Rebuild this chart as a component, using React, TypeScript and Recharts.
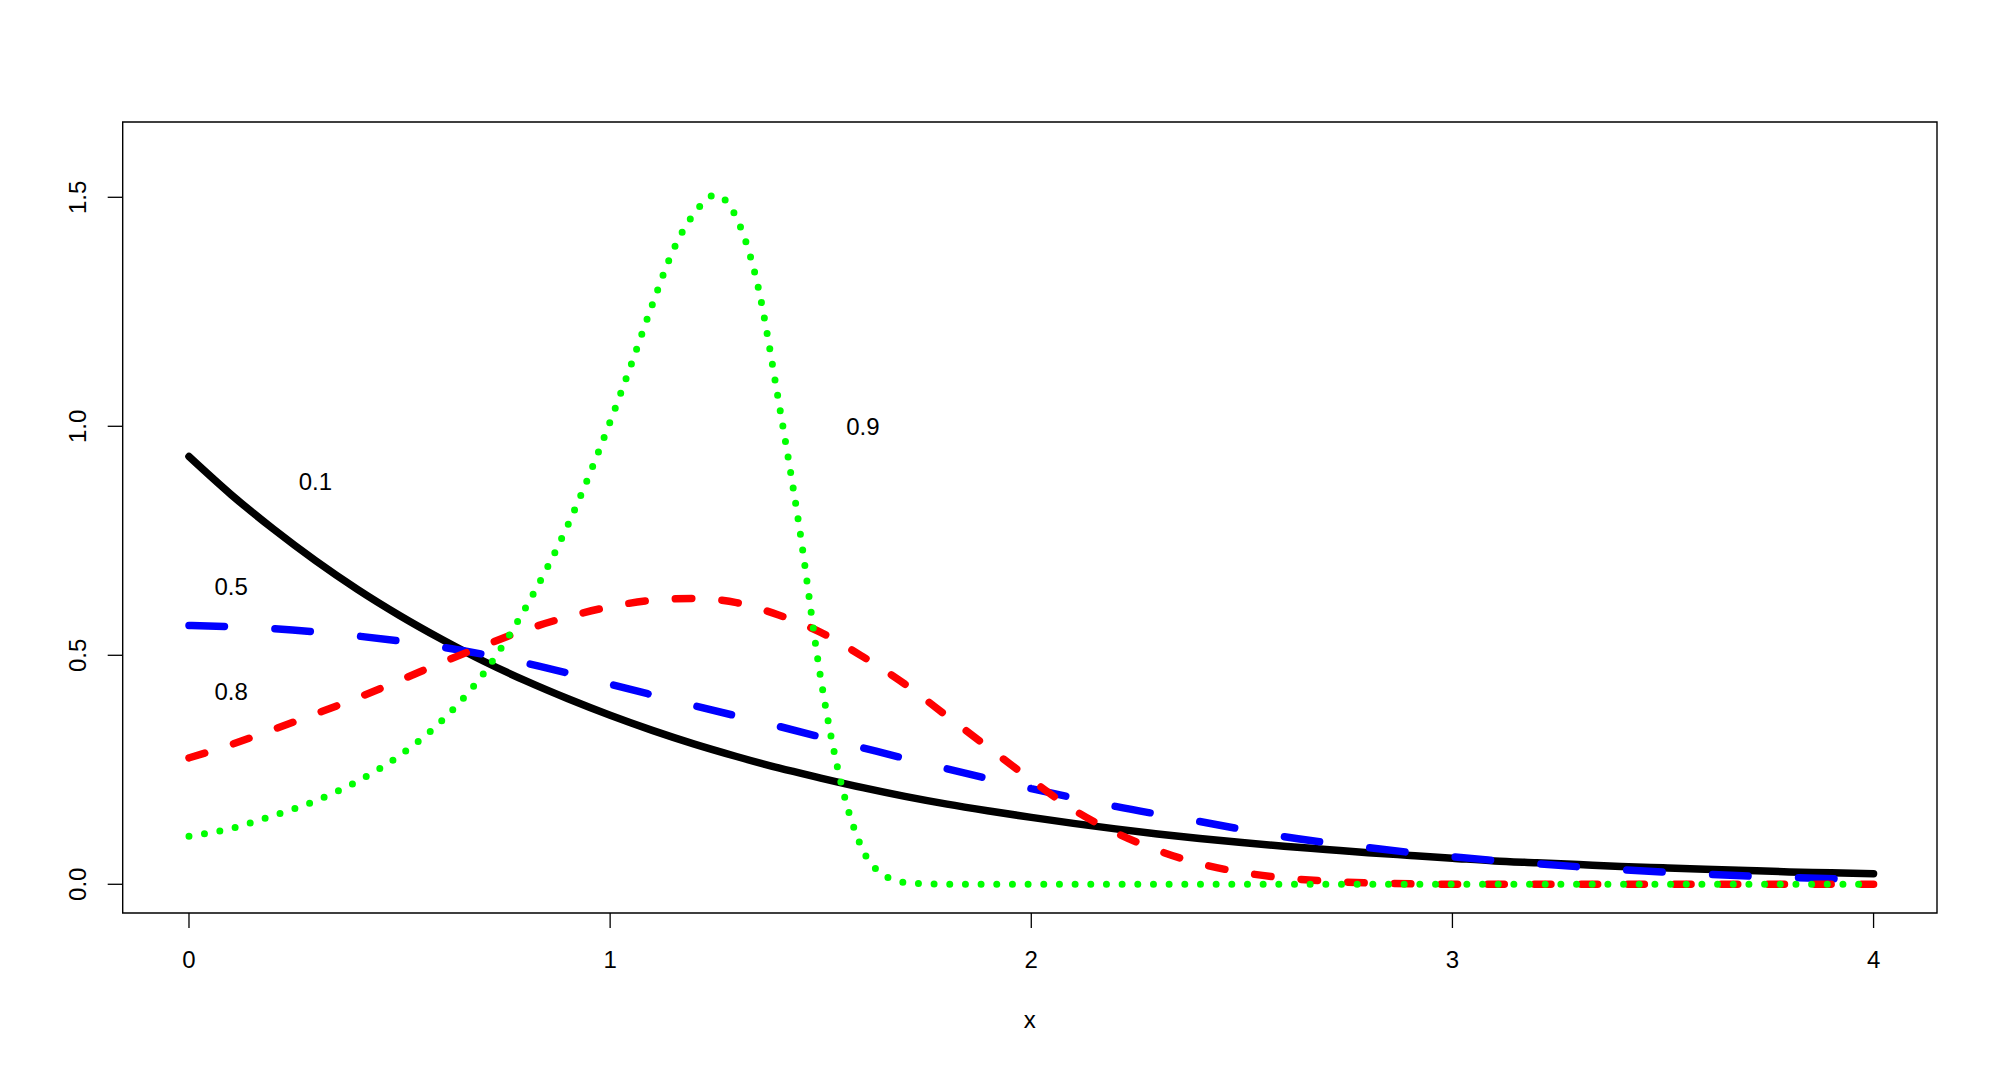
import React from 'react';
import { LineChart, Line, XAxis, YAxis, ReferenceArea, ReferenceDot } from 'recharts';

// ---- data ----
const blackX = [0, 0.1, 0.2, 0.3, 0.4, 0.5, 0.6, 0.7, 0.8, 0.9, 1.0, 1.1, 1.2, 1.3, 1.4, 1.5, 1.6, 1.7, 1.8, 1.9, 2.0, 2.1, 2.2, 2.3, 2.4, 2.5, 2.6, 2.7, 2.8, 2.9, 3.0, 3.1, 3.2, 3.3, 3.4, 3.5, 3.6, 3.7, 3.8, 3.9, 4.0];
const blackY = [0.934, 0.851, 0.776, 0.707, 0.644, 0.587, 0.535, 0.487, 0.444, 0.405, 0.369, 0.336, 0.306, 0.279, 0.254, 0.232, 0.211, 0.192, 0.175, 0.160, 0.146, 0.133, 0.121, 0.110, 0.100, 0.091, 0.083, 0.076, 0.069, 0.063, 0.057, 0.051, 0.047, 0.043, 0.039, 0.036, 0.033, 0.030, 0.027, 0.025, 0.023];

const blueX = [0, 0.2, 0.4, 0.6, 0.8, 1.0, 1.2, 1.4, 1.6, 1.8, 2.0, 2.2, 2.4, 2.6, 2.8, 3.0, 3.2, 3.4, 3.6, 3.8, 4.0];
const blueY = [0.565, 0.558, 0.542, 0.518, 0.483, 0.437, 0.390, 0.345, 0.298, 0.252, 0.209, 0.170, 0.137, 0.104, 0.080, 0.060, 0.045, 0.032, 0.022, 0.015, 0.010];

const redX = [0, 0.1, 0.2, 0.3, 0.4, 0.5, 0.6, 0.7, 0.8, 0.9, 1.0, 1.1, 1.2, 1.3, 1.4, 1.5, 1.6, 1.7, 1.8, 1.9, 2.0, 2.1, 2.2, 2.3, 2.4, 2.5, 2.6, 2.7, 2.8, 2.9, 3.0, 3.1, 3.2, 3.3, 3.4, 3.5, 3.6, 3.7, 3.8, 3.9, 4.0];
const redY = [0.276, 0.305, 0.338, 0.372, 0.407, 0.445, 0.484, 0.521, 0.556, 0.584, 0.606, 0.620, 0.624, 0.615, 0.588, 0.550, 0.497, 0.437, 0.367, 0.297, 0.228, 0.163, 0.113, 0.074, 0.045, 0.026, 0.014, 0.007, 0.003, 0.001, 0, 0, 0, 0, 0, 0, 0, 0, 0, 0, 0];

const greenX = [0, 0.1, 0.2, 0.3, 0.4, 0.5, 0.6, 0.7, 0.8, 0.9, 1.0, 1.05, 1.1, 1.15, 1.2, 1.25, 1.3, 1.35, 1.4, 1.45, 1.5, 1.55, 1.6, 1.65, 1.7, 1.8, 2.0, 2.5, 3.0, 3.5, 4.0];
const greenY = [0.105, 0.122, 0.150, 0.182, 0.225, 0.281, 0.357, 0.461, 0.605, 0.785, 1.010, 1.135, 1.265, 1.385, 1.465, 1.505, 1.455, 1.310, 1.055, 0.775, 0.450, 0.215, 0.075, 0.020, 0.004, 0, 0, 0, 0, 0, 0];

const labelTexts = ['0.1', '0.5', '0.8', '0.9'];
const labelX = [0.3, 0.1, 0.1, 1.6];
const labelY = [0.88, 0.65, 0.42, 1.0];

const xTicks = [0, 1, 2, 3, 4];
const yTicks = [0, 0.5, 1.0, 1.5];
const xTitle = 'x';

const xDomain: [number, number] = [-0.1574, 4.1506];
const yDomain: [number, number] = [-0.0627, 1.6644];

const zip = (xs: number[], ys: number[]) => xs.map((x, i) => ({ x, y: ys[i] }));
const blackData = zip(blackX, blackY);
const blueData = zip(blueX, blueY);
const redData = zip(redX, redY);
const greenData = zip(greenX, greenY);

const FONT = '"Liberation Sans", Arial, Helvetica, sans-serif';

const XTick = (props: any) => {
  const { x, y, payload } = props;
  return (
    <text x={x} y={y + 17} textAnchor="middle" fontSize={24} fontFamily={FONT} fill="#000">
      {String(payload.value)}
    </text>
  );
};

const YTick = (props: any) => {
  const { x, y, payload } = props;
  return (
    <text x={x} y={y} transform={`rotate(-90, ${x}, ${y})`} textAnchor="middle" fontSize={24} fontFamily={FONT} fill="#000">
      {Number(payload.value).toFixed(1)}
    </text>
  );
};

const XTitle = (props: any) => {
  const vb = props.viewBox || { x: 0, y: 0, width: 0 };
  return (
    <text x={vb.x + vb.width / 2} y={vb.y + 115.3} textAnchor="middle" fontSize={24} fontFamily={FONT} fill="#000">
      {xTitle}
    </text>
  );
};

export default function App() {
  const lw = 7.5;
  return (
    <div style={{ position: 'absolute', left: 0, top: 0, width: 1998, height: 1067, background: '#fff' }}>
      <LineChart
        width={1998}
        height={1067}
        margin={{ top: 122, right: 61, bottom: 94, left: 62.7 }}
      >
        <XAxis
          type="number"
          dataKey="x"
          domain={xDomain}
          allowDataOverflow
          ticks={xTicks}
          axisLine={false}
          tickLine={{ stroke: '#000', strokeWidth: 1.3 }}
          tickSize={15}
          tickMargin={23.3}
          height={60}
          tick={<XTick />}
          label={{ value: xTitle, content: <XTitle /> }}
        />
        <YAxis
          type="number"
          dataKey="y"
          domain={yDomain}
          allowDataOverflow
          ticks={yTicks}
          axisLine={false}
          tickLine={{ stroke: '#000', strokeWidth: 1.3 }}
          tickSize={15}
          tickMargin={21.7}
          width={60}
          tick={<YTick />}
        />
        <ReferenceArea
          x1={xDomain[0]}
          x2={xDomain[1]}
          y1={yDomain[0]}
          y2={yDomain[1]}
          fill="none"
          fillOpacity={0}
          stroke="#000"
          strokeWidth={1.4}
          ifOverflow="visible"
        />
        <Line data={blackData} dataKey="y" type="monotone" stroke="#000000" strokeWidth={lw} dot={false} activeDot={false} isAnimationActive={false} strokeLinecap="round" />
        <Line data={blueData} dataKey="y" type="monotone" stroke="#0000FF" strokeWidth={lw} strokeDasharray="35.5 50.5" strokeLinecap="round" dot={false} activeDot={false} isAnimationActive={false} />
        <Line data={redData} dataKey="y" type="monotone" stroke="#FF0000" strokeWidth={lw} strokeDasharray="16.5 30.2" strokeLinecap="round" dot={false} activeDot={false} isAnimationActive={false} />
        <Line data={greenData} dataKey="y" type="monotone" stroke="#00FF00" strokeWidth={7} strokeDasharray="0 15.67" strokeLinecap="round" dot={false} activeDot={false} isAnimationActive={false} />
        {labelTexts.map((t, i) => (
          <ReferenceDot
            key={t}
            x={labelX[i]}
            y={labelY[i]}
            r={0}
            ifOverflow="visible"
            shape={(p: any) => (
              <text x={p.cx} y={p.cy} dy="0.355em" textAnchor="middle" fontSize={24} fontFamily={FONT} fill="#000">
                {t}
              </text>
            )}
          />
        ))}
      </LineChart>
    </div>
  );
}
